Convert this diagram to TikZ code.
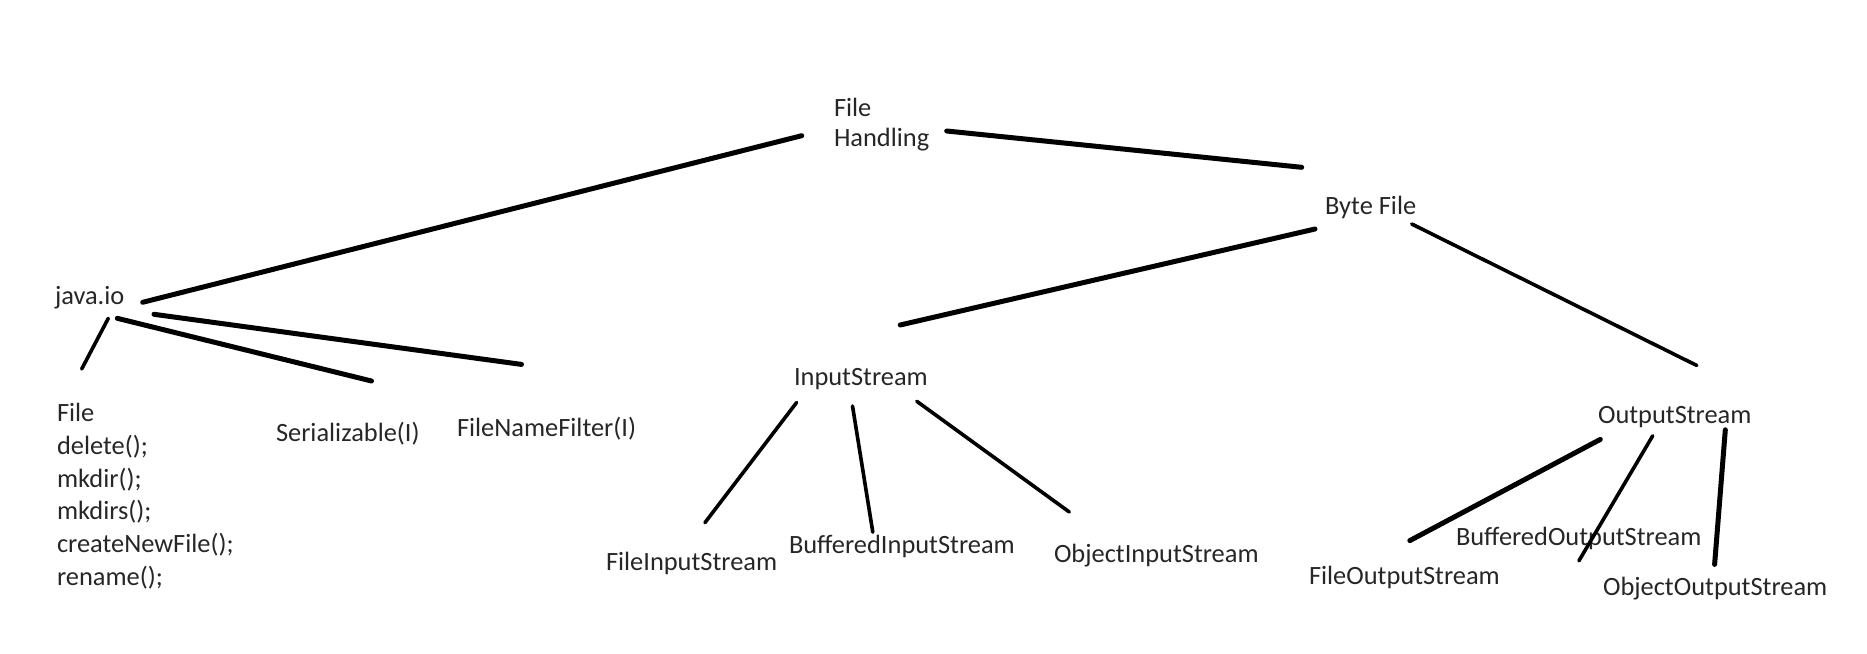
\documentclass[tikz,border=0pt]{standalone}
\usepackage{fontspec}
\setmainfont{Carlito}
\begin{document}
\begin{tikzpicture}[x=1pt,y=-1pt,
  lbl/.style={anchor=base west,inner sep=0pt,outer sep=0pt,text=black!85,
    font=\fontsize{26.4}{32.7}\selectfont},
  thk/.style={line width=5pt,line cap=round},
  thn/.style={line width=3.6pt,line cap=round}]
\useasboundingbox (0,0) rectangle (1867,653);
% text nodes (multi-line nodes: base = baseline of last line)
\node[lbl,align=left,font=\fontsize{26.4}{30.7}\selectfont] (fh) at (834,146.7) {File\\Handling};
\node[lbl] (byte) at (1325,214) {Byte File};
\node[lbl] (jio) at (55,304) {java.io};
\node[lbl,align=left] (flist) at (57,585.2) {File\\delete();\\mkdir();\\mkdirs();\\createNewFile();\\rename();};
\node[lbl] (ser) at (276,441.5) {Serializable(I)};
\node[lbl] (fnf) at (457,436) {FileNameFilter(I)};
\node[lbl] (ins) at (794,385) {InputStream};
\node[lbl] (outs) at (1598,423) {OutputStream};
\node[lbl] (fis) at (606,570) {FileInputStream};
\node[lbl] (bis) at (789,553) {BufferedInputStream};
\node[lbl] (ois) at (1054,562) {ObjectInputStream};
\node[lbl] (fos) at (1309,584) {FileOutputStream};
\node[lbl] (bos) at (1456,545) {BufferedOutputStream};
\node[lbl] (oos) at (1603,595) {ObjectOutputStream};
% connector end points
\coordinate (fh-l) at (801.7,135.7);
\coordinate (fh-r) at (946.7,131);
\coordinate (jio-u) at (142.7,302.3);
\coordinate (jio-a) at (108.3,318.3);
\coordinate (jio-b) at (117.3,318.3);
\coordinate (jio-c) at (154,314.3);
\coordinate (flist-t) at (81.7,369);
\coordinate (ser-t) at (371.5,381);
\coordinate (fnf-t) at (521.5,364.4);
\coordinate (byte-u) at (1301.7,167.3);
\coordinate (byte-l) at (1315,229);
\coordinate (byte-r) at (1411.7,224);
\coordinate (ins-u) at (900.2,325);
\coordinate (outs-u) at (1696.8,365.5);
\coordinate (ins-a) at (796.6,402.5);
\coordinate (ins-b) at (852.5,406);
\coordinate (ins-c) at (916.8,401.3);
\coordinate (fis-t) at (704.9,522.7);
\coordinate (bis-t) at (872.8,532.2);
\coordinate (ois-t) at (1069.3,512);
\coordinate (outs-a) at (1600.3,439.4);
\coordinate (outs-b) at (1652.7,435.8);
\coordinate (outs-c) at (1725.3,429.8);
\coordinate (fos-t) at (1409.8,540.6);
\coordinate (bos-t) at (1578.9,560.8);
\coordinate (oos-t) at (1714.6,564.4);
% connectors
\draw[thk] (fh-l) -- (jio-u);
\draw[thk] (fh-r) -- (byte-u);
\draw[thk] (byte-l) -- (ins-u);
\draw[thn] (byte-r) -- (outs-u);
\draw[thn] (jio-a) -- (flist-t);
\draw[thk] (jio-b) -- (ser-t);
\draw[thk] (jio-c) -- (fnf-t);
\draw[thn] (ins-a) -- (fis-t);
\draw[thn] (ins-b) -- (bis-t);
\draw[thn] (ins-c) -- (ois-t);
\draw[thk] (outs-a) -- (fos-t);
\draw[thn] (outs-b) -- (bos-t);
\draw[thk] (outs-c) -- (oos-t);
\end{tikzpicture}
\end{document}
